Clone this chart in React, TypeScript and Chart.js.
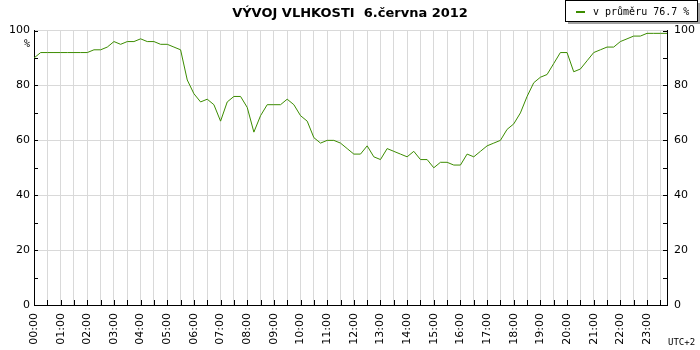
import React, { useEffect, useRef } from "react";
import { Chart, registerables } from "chart.js";

Chart.register(...registerables);

const titleText = "VÝVOJ VLHKOSTI  6.června 2012";
const seriesLabel = "v průměru 76.7 %";
const unitLabel = "%";
const zoneLabel = "UTC+2";

const times = [
  "00:00", "00:15", "00:30", "00:45", "01:00", "01:15", "01:30", "01:45",
  "02:00", "02:15", "02:30", "02:45", "03:00", "03:15", "03:30", "03:45",
  "04:00", "04:15", "04:30", "04:45", "05:00", "05:15", "05:30", "05:45",
  "06:00", "06:15", "06:30", "06:45", "07:00", "07:15", "07:30", "07:45",
  "08:00", "08:15", "08:30", "08:45", "09:00", "09:15", "09:30", "09:45",
  "10:00", "10:15", "10:30", "10:45", "11:00", "11:15", "11:30", "11:45",
  "12:00", "12:15", "12:30", "12:45", "13:00", "13:15", "13:30", "13:45",
  "14:00", "14:15", "14:30", "14:45", "15:00", "15:15", "15:30", "15:45",
  "16:00", "16:15", "16:30", "16:45", "17:00", "17:15", "17:30", "17:45",
  "18:00", "18:15", "18:30", "18:45", "19:00", "19:15", "19:30", "19:45",
  "20:00", "20:15", "20:30", "20:45", "21:00", "21:15", "21:30", "21:45",
  "22:00", "22:15", "22:30", "22:45", "23:00", "23:15", "23:30", "23:45",
];

const humidity = [
  90, 92, 92, 92, 92, 92, 92, 92, 92, 93,
  93, 94, 96, 95, 96, 96, 97, 96, 96, 95,
  95, 94, 93, 82, 77, 74, 75, 73, 67, 74,
  76, 76, 72, 63, 69, 73, 73, 73, 75, 73,
  69, 67, 61, 59, 60, 60, 59, 57, 55, 55,
  58, 54, 53, 57, 56, 55, 54, 56, 53, 53,
  50, 52, 52, 51, 51, 55, 54, 56, 58, 59,
  60, 64, 66, 70, 76, 81, 83, 84, 88, 92,
  92, 85, 86, 89, 92, 93, 94, 94, 96, 97,
  98, 98, 99, 99, 99, 99,
];

const yMin = 0;
const yMax = 100;
const yStep = 10;
const yLabelStep = 20;

const GRID = "#d9d9d9";
const LINE = "#3c8c00";

const decorPlugin = {
  id: "decor",
  afterDraw(chart: any) {
    const ctx = chart.ctx;
    const { left, right, top, bottom } = chart.chartArea;
    const y = chart.scales.y;
    const x = chart.scales.x;
    ctx.save();
    ctx.strokeStyle = "#000";
    ctx.lineWidth = 1;
    ctx.beginPath();
    for (let v = yMin; v <= yMax; v += yStep) {
      const py = Math.round(y.getPixelForValue(v)) + 0.5;
      ctx.moveTo(left, py);
      ctx.lineTo(left + 4, py);
      ctx.moveTo(right - 4, py);
      ctx.lineTo(right, py);
    }
    for (let i = 0; i < times.length; i += 2) {
      const px = Math.round(x.getPixelForTick(i)) + 0.5;
      ctx.moveTo(px, bottom);
      ctx.lineTo(px, bottom - 5);
    }
    ctx.stroke();

    // unit label
    ctx.fillStyle = "#000";
    ctx.font = "10px 'DejaVu Sans Mono'";
    ctx.textAlign = "center";
    ctx.textBaseline = "middle";
    ctx.fillText(unitLabel, 27, 44);

    // zone label
    ctx.font = "9px 'DejaVu Sans Mono'";
    ctx.textAlign = "left";
    ctx.fillText(zoneLabel, 668, 343);

    // legend box
    ctx.fillStyle = "#a0a0a0";
    ctx.fillRect(568, 3, 132, 21);
    ctx.fillStyle = "#fff";
    ctx.fillRect(565, 0, 133, 22);
    ctx.strokeStyle = "#000";
    ctx.strokeRect(565.5, 0.5, 132, 21);
    ctx.strokeStyle = LINE;
    ctx.lineWidth = 2;
    ctx.beginPath();
    ctx.moveTo(576, 12);
    ctx.lineTo(585, 12);
    ctx.stroke();
    ctx.fillStyle = "#000";
    ctx.font = "10px 'DejaVu Sans Mono'";
    ctx.textAlign = "left";
    ctx.textBaseline = "middle";
    ctx.fillText(chart.data.datasets[0].label, 593, 12);
    ctx.restore();
  },
};

export default function App() {
  const ref = useRef<HTMLCanvasElement | null>(null);

  useEffect(() => {
    if (!ref.current) return;
    const chart = new Chart(ref.current, {
      type: "line",
      data: {
        labels: times,
        datasets: [
          {
            label: seriesLabel,
            data: humidity,
            borderColor: LINE,
            backgroundColor: LINE,
            borderWidth: 1,
            pointRadius: 0,
            tension: 0,
            fill: false,
          },
        ],
      },
      options: {
        responsive: false,
        animation: false,
        devicePixelRatio: 1,
        layout: { padding: 0 },
        plugins: {
          legend: { display: false },
          tooltip: { enabled: false },
          title: {
            display: true,
            text: titleText,
            color: "#000",
            font: { family: "'DejaVu Sans'", size: 13, weight: "bold" },
            padding: { top: 6, bottom: 9 },
          },
        },
        scales: {
          x: {
            type: "category",
            offset: false,
            grid: {
              color: (c: any) => (c.index % 2 === 0 && c.index > 0 ? GRID : "rgba(0,0,0,0)"),
              drawTicks: false,
            },
            border: { display: true, color: "#000", width: 1 },
            ticks: {
              autoSkip: false,
              maxRotation: 90,
              minRotation: 90,
              padding: 8,
              color: "#000",
              font: { family: "'DejaVu Sans'", size: 11 },
              callback: (_v: any, i: number) => (i % 4 === 0 ? times[i] : ""),
            },
            afterFit: (s: any) => {
              s.height = 45;
            },
          },
          y: {
            type: "linear",
            position: "left",
            min: yMin,
            max: yMax,
            grid: {
              color: (c: any) =>
                c.tick && c.tick.value % yLabelStep === 0 && c.tick.value > 0 ? GRID : "rgba(0,0,0,0)",
              drawTicks: false,
            },
            border: { display: true, color: "#000", width: 1 },
            ticks: {
              stepSize: yStep,
              padding: 4,
              color: "#000",
              font: { family: "'DejaVu Sans'", size: 11 },
              callback: (v: any) => (Number(v) % yLabelStep === 0 ? String(v) : ""),
            },
            afterFit: (s: any) => {
              s.width = 34;
            },
          },
          y2: {
            type: "linear",
            position: "right",
            min: yMin,
            max: yMax,
            grid: { drawOnChartArea: false, drawTicks: false },
            border: { display: true, color: "#000", width: 1 },
            ticks: {
              stepSize: yStep,
              padding: 7,
              color: "#000",
              font: { family: "'DejaVu Sans'", size: 11 },
              callback: (v: any) => (Number(v) % yLabelStep === 0 ? String(v) : ""),
            },
            afterFit: (s: any) => {
              s.width = 33;
            },
          },
        },
      },
      plugins: [decorPlugin],
    } as any);
    return () => chart.destroy();
  }, []);

  return (
    <div style={{ position: "absolute", left: 0, top: 0, width: 700, height: 350, background: "#fff" }}>
      <canvas ref={ref} width={700} height={350} />
    </div>
  );
}
